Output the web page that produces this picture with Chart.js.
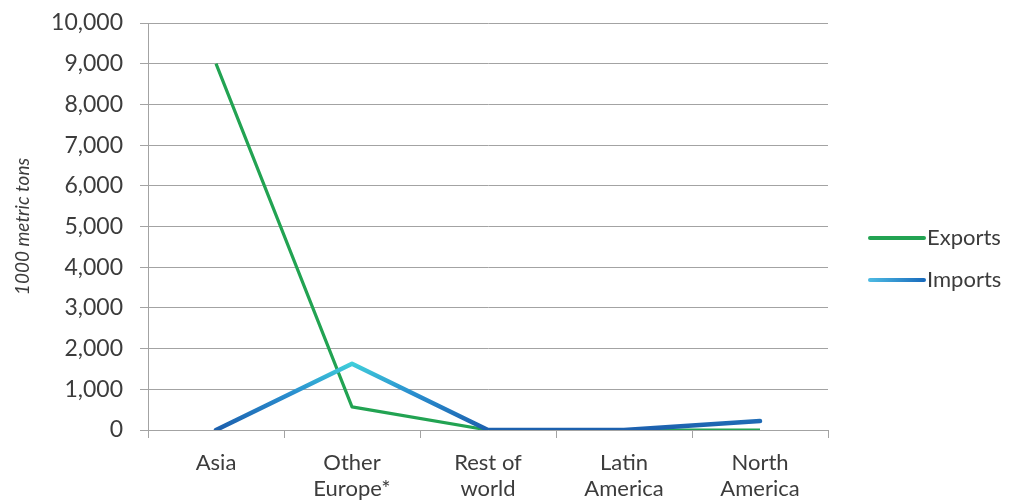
<!DOCTYPE html>
<html>
<head>
<meta charset="utf-8">
<script src="https://cdn.jsdelivr.net/npm/chart.js@4/dist/chart.umd.min.js"></script>
<style>
  html, body { margin: 0; padding: 0; background: #ffffff; }
  #wrap { width: 1012px; height: 503px; position: relative; }
</style>
</head>
<body>
<div id="wrap"><canvas id="chart"></canvas></div>
<script>
// Regions along the category axis
const categories = [
  ['Asia'],
  ['Other', 'Europe*'],
  ['Rest of', 'world'],
  ['Latin', 'America'],
  ['North', 'America']
];
// Volumes in 1000 metric tons
const exportsValues = [9000, 570, 0, 0, 0];
const importsValues = [0, 1630, 0, 0, 220];
const seriesNames = ['Exports', 'Imports'];
const yMin = 0;
const yMax = 10000;
const yStep = 1000;
const yTitle = '1000 metric tons';

const TEXT = '#3c3c3c';
const GRID = '#a3a3a3';
const GREEN = '#22a352';
const BLUE_LOW = '#1c5fad';
const BLUE_HIGH = '#40cfda';

// Imports line shades from deep blue near zero to cyan at its peak
function importsStroke(ctx) {
  const chart = ctx.chart;
  if (!chart.chartArea) return BLUE_LOW;
  const y = chart.scales.y;
  const g = chart.ctx.createLinearGradient(0, y.getPixelForValue(0), 0, y.getPixelForValue(1650));
  g.addColorStop(0, BLUE_LOW);
  g.addColorStop(0.55, '#2a8fcf');
  g.addColorStop(1, BLUE_HIGH);
  return g;
}

// Legend drawn to the right of the plot: a long line swatch followed by the name
const sideLegend = {
  id: 'sideLegend',
  afterDraw(chart) {
    const c = chart.ctx;
    const area = chart.chartArea;
    const x0 = area.right + 42;
    const x1 = x0 + 54;
    const rows = [
      { name: seriesNames[0], y: 238, stroke: GREEN },
      { name: seriesNames[1], y: 280, stroke: null }
    ];
    c.save();
    c.lineCap = 'round';
    rows.forEach(r => {
      let s = r.stroke;
      if (!s) {
        s = c.createLinearGradient(x0, 0, x1, 0);
        s.addColorStop(0, '#4cb9e2');
        s.addColorStop(1, '#1a6cbd');
      }
      c.strokeStyle = s;
      c.lineWidth = 4;
      c.beginPath();
      c.moveTo(x0, r.y);
      c.lineTo(x1, r.y);
      c.stroke();
      c.fillStyle = TEXT;
      c.font = '22px Lato';
      c.textBaseline = 'middle';
      c.textAlign = 'left';
      c.fillText(r.name, x1 + 3, r.y);
    });
    c.restore();
  }
};

new Chart(document.getElementById('chart'), {
  type: 'line',
  data: {
    labels: categories,
    datasets: [
      {
        label: seriesNames[0],
        data: exportsValues,
        borderColor: GREEN,
        borderWidth: 3.2,
        pointRadius: 0,
        tension: 0,
        order: 1,
        borderJoinStyle: 'round'
      },
      {
        label: seriesNames[1],
        data: importsValues,
        borderColor: importsStroke,
        borderWidth: 4.5,
        pointRadius: 0,
        tension: 0,
        order: 0,
        borderCapStyle: 'round',
        borderJoinStyle: 'round'
      }
    ]
  },
  options: {
    responsive: true,
    maintainAspectRatio: false,
    animation: false,
    layout: { padding: { left: 0, top: 23, right: 184, bottom: 0 } },
    plugins: {
      legend: { display: false },
      tooltip: { enabled: false }
    },
    scales: {
      x: {
        offset: true,
        grid: {
          offset: true,
          drawOnChartArea: false,
          drawTicks: true,
          tickLength: 8,
          color: GRID
        },
        border: { color: GRID, width: 1 },
        ticks: {
          color: TEXT,
          font: { family: 'Lato', size: 22, lineHeight: 1.22 },
          padding: 11,
          maxRotation: 0,
          autoSkip: false
        },
        afterFit(scale) {
          scale.height = 73;
          scale.paddingLeft = 0;
          scale.paddingRight = 0;
        }
      },
      y: {
        min: yMin,
        max: yMax,
        grid: {
          color: GRID,
          tickLength: 8,
          drawTicks: true
        },
        border: { color: GRID, width: 1 },
        ticks: {
          stepSize: yStep,
          color: TEXT,
          font: { family: 'Lato', size: 23 },
          padding: 17,
          callback: v => Number(v).toLocaleString('en-US')
        },
        title: {
          display: true,
          text: yTitle,
          color: TEXT,
          font: { family: 'Lato', size: 19, style: 'italic' },
          padding: { top: 11, bottom: 0 }
        },
        afterFit(scale) {
          scale.width = 148;
          scale.paddingTop = 0;
          scale.paddingBottom = 0;
        }
      }
    }
  },
  plugins: [sideLegend]
});
</script>
</body>
</html>
